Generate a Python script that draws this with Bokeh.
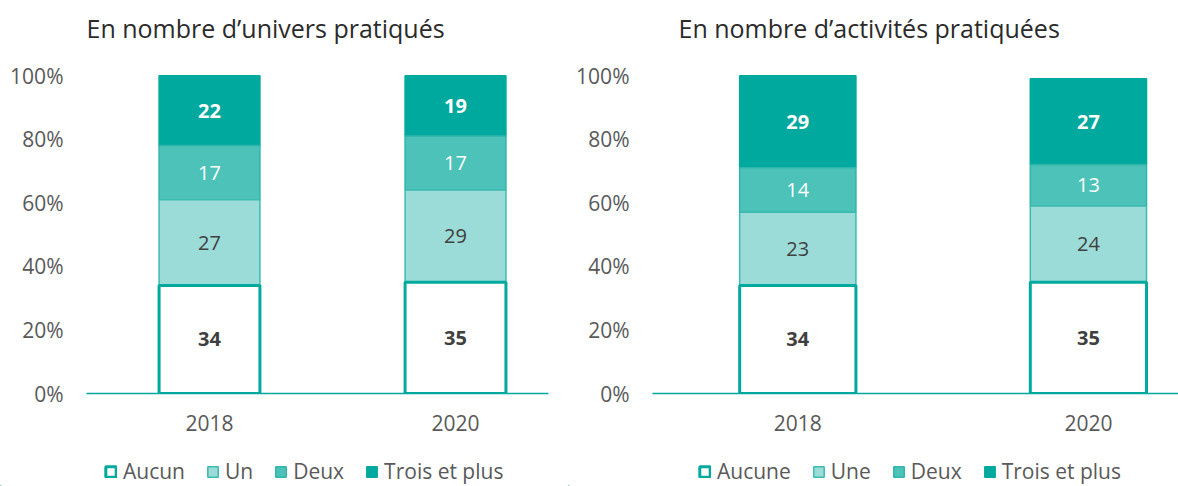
from bokeh.plotting import figure
from bokeh.layouts import row, column
from bokeh.models import (Range1d, FixedTicker, PrintfTickFormatter, Legend,
                          LegendItem, ColumnDataSource, Label)
from bokeh.embed import file_html
from bokeh.resources import INLINE
from bokeh.core.properties import value

years = ["2018", "2020"]

# Left panel: En nombre d'univers pratiqués
univers_title = "En nombre d\u2019univers pratiqués"
univers_names = ["Aucun", "Un", "Deux", "Trois et plus"]
univers_aucun = [34, 35]
univers_un = [27, 29]
univers_deux = [17, 17]
univers_trois = [22, 19]

# Right panel: En nombre d'activités pratiquées
activites_title = "En nombre d\u2019activités pratiquées"
activites_names = ["Aucune", "Une", "Deux", "Trois et plus"]
activites_aucune = [34, 35]
activites_une = [23, 24]
activites_deux = [14, 13]
activites_trois = [29, 27]

TEAL = "#00A99D"
FILLS = ["#FFFFFF", "#9CDCD8", "#4DC2B9", "#00A99D"]
LINES = ["#00A99D", "#3DBBB1", "#2FB5AB", "#00A99D"]
LWIDTH = [3, 1.5, 1.5, 1.5]
TXT_COL = ["#404040", "#404040", "#FFFFFF", "#FFFFFF"]
TXT_STYLE = ["bold", "normal", "normal", "bold"]
FONT = "Open Sans"
AXIS_TXT = "#595959"


def blank_fig(width, height):
    q = figure(width=width, height=height, x_range=Range1d(0, 1), y_range=Range1d(0, 1),
               output_backend="svg", toolbar_location=None, x_axis_type=None,
               y_axis_type=None, min_border=0)
    q.outline_line_color = None
    q.xgrid.visible = False
    q.ygrid.visible = False
    return q


def title_fig(text, width, tx):
    q = blank_fig(width, 55)
    q.add_layout(Label(x=tx, y=28, x_units="screen", y_units="screen", text=text,
                       text_baseline="middle", text_align="left", text_font=FONT,
                       text_font_size="25px", text_color="#2B2B2B"))
    return q


def panel(series, width, bl, br, x_end, bw):
    p = figure(width=width, height=385, x_range=Range1d(-0.5, x_end),
               y_range=Range1d(0, 101), output_backend="svg", toolbar_location=None,
               min_border_left=bl, min_border_right=br, min_border_top=17,
               min_border_bottom=47)
    p.outline_line_color = None
    p.xgrid.grid_line_color = None
    p.ygrid.grid_line_color = None

    xs = list(range(len(years)))
    bottom = [0] * len(xs)
    sources = []
    for i, vals in enumerate(series):
        top = [b + v for b, v in zip(bottom, vals)]
        src = ColumnDataSource(dict(x=xs, bottom=bottom, top=top,
                                    mid=[(b + t) / 2 for b, t in zip(bottom, top)],
                                    label=[str(v) for v in vals]))
        sources.append(src)
        bottom = top
    for i in reversed(range(len(series))):
        p.vbar(x="x", width=bw, bottom="bottom", top="top", source=sources[i],
               fill_color=FILLS[i], line_color=LINES[i], line_width=LWIDTH[i])
    for i in range(len(series)):
        p.text(x="x", y="mid", text="label", source=sources[i], text_align="center",
               text_baseline="middle", text_color=TXT_COL[i],
               text_font=value(FONT), text_font_style=TXT_STYLE[i], text_font_size="20px")

    p.xaxis.ticker = FixedTicker(ticks=xs)
    p.xaxis.major_label_overrides = {i: y for i, y in zip(xs, years)}
    p.xaxis.axis_line_color = TEAL
    p.xaxis.axis_line_width = 1.5
    p.xaxis.major_tick_line_color = None
    p.xaxis.minor_tick_line_color = None
    p.xaxis.major_tick_out = 0
    p.xaxis.major_label_standoff = 21
    p.xaxis.major_label_text_font = FONT
    p.xaxis.major_label_text_font_size = "21px"
    p.xaxis.major_label_text_color = AXIS_TXT

    p.yaxis.ticker = FixedTicker(ticks=[0, 20, 40, 60, 80, 100])
    p.yaxis.formatter = PrintfTickFormatter(format="%d%%")
    p.yaxis.axis_line_color = None
    p.yaxis.major_tick_line_color = None
    p.yaxis.minor_tick_line_color = None
    p.yaxis.major_tick_out = 0
    p.yaxis.major_label_standoff = 23
    p.yaxis.major_label_text_font = FONT
    p.yaxis.major_label_text_font_size = "21px"
    p.yaxis.major_label_text_color = AXIS_TXT
    return p


def legend_fig(names, width, lx, spacing):
    q = blank_fig(width, 46)
    rends = []
    for i, n in enumerate(names):
        # placeholder glyph outside the visible range, only used for the legend swatch
        src = ColumnDataSource(dict(x=[-10], top=[-10]))
        rends.append(q.vbar(x="x", top="top", width=0.1, source=src, fill_color=FILLS[i],
                            line_color=LINES[i], line_width=LWIDTH[i]))
    legend = Legend(items=[LegendItem(label=n, renderers=[r]) for n, r in zip(names, rends)],
                    location=(lx, 1), orientation="horizontal",
                    glyph_width=13, glyph_height=13, label_standoff=6, spacing=spacing,
                    label_text_font=FONT, label_text_font_size="21px",
                    label_text_color=AXIS_TXT, padding=0, margin=0,
                    border_line_color=None, background_fill_alpha=0)
    q.add_layout(legend)
    return q


left_title = title_fig(univers_title, 568, 86)
right_title = title_fig(activites_title, 610, 110)
left = panel([univers_aucun, univers_un, univers_deux, univers_trois],
             width=568, bl=86, br=20, x_end=1.378, bw=0.41)
right = panel([activites_aucune, activites_une, activites_deux, activites_trois],
              width=610, bl=84, br=0, x_end=1.31, bw=0.40)
left_leg = legend_fig(univers_names, 568, 104, 21)
right_leg = legend_fig(activites_names, 610, 130, 21)

layout = column(row(left_title, right_title), row(left, right), row(left_leg, right_leg))
open("out.html", "w").write(file_html(layout, INLINE))
